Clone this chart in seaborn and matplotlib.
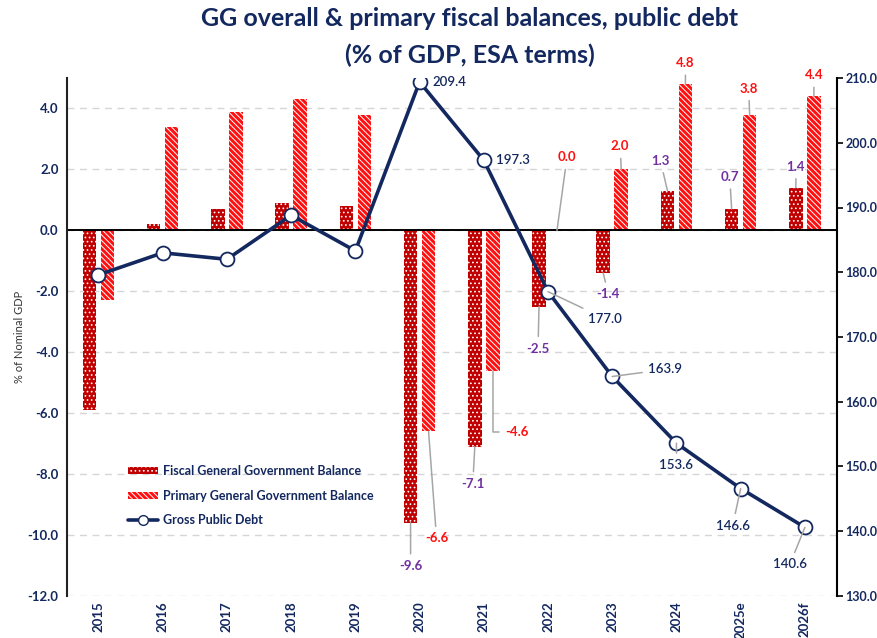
import numpy as np
import pandas as pd
import matplotlib
matplotlib.use("Agg")
import matplotlib.pyplot as plt
from matplotlib.lines import Line2D
from matplotlib.patches import Patch
import seaborn as sns

# ---- data -------------------------------------------------------------
years = ["2015", "2016", "2017", "2018", "2019", "2020",
         "2021", "2022", "2023", "2024", "2025e", "2026f"]
fiscal_balance = [-5.9, 0.2, 0.7, 0.9, 0.8, -9.6, -7.1, -2.5, -1.4, 1.3, 0.7, 1.4]
primary_balance = [-2.3, 3.4, 3.9, 4.3, 3.8, -6.6, -4.6, 0.0, 2.0, 4.8, 3.8, 4.4]
public_debt = [179.6, 183.0, 182.0, 188.8, 183.3, 209.4,
               197.3, 177.0, 163.9, 153.6, 146.6, 140.6]

left_ticks = [-12, -10, -8, -6, -4, -2, 0, 2, 4]
right_ticks = [130, 140, 150, 160, 170, 180, 190, 200, 210]

series_names = ["Fiscal General Government Balance",
                "Primary General Government Balance",
                "Gross Public Debt"]

# ---- styling ------------------------------------------------------------
NAVY = "#13285e"
DARK_RED = "#c00000"
RED = "#ff1010"
PURPLE = "#7030a0"
LEADER = "#a6a6a6"
DOTS = "...."
STRIPES = "\\" * 6

sns.set_theme(style="white")
plt.rcParams["font.family"] = ["Lato", "DejaVu Sans"]
plt.rcParams["hatch.linewidth"] = 0.7

fig = plt.figure(figsize=(8.78, 6.38), dpi=100)
ax = fig.add_axes([67 / 878, 1 - 596 / 638, (837 - 67) / 878, (596 - 78) / 638])

df = pd.DataFrame({
    "Year": years * 2,
    "Value": fiscal_balance + primary_balance,
    "Series": [series_names[0]] * len(years) + [series_names[1]] * len(years),
})

sns.barplot(data=df, x="Year", y="Value", hue="Series",
            hue_order=series_names[:2], palette=[DARK_RED, RED],
            width=0.56, gap=0.25, saturation=1, legend=False, ax=ax,
            errorbar=None)

# patterned fills: white dots on dark red, white stripes on red
for patch in ax.containers[0]:
    patch.set_facecolor(DARK_RED)
    patch.set_edgecolor("white")
    patch.set_linewidth(0)
    patch.set_hatch(DOTS)
for patch in ax.containers[1]:
    patch.set_facecolor(RED)
    patch.set_edgecolor("white")
    patch.set_linewidth(0)
    patch.set_hatch(STRIPES)

ax.set_xlim(-0.49, 11.5)
ax.set_ylim(-12, 5)
ax.set_yticks(left_ticks)
ax.set_yticklabels([f"{t:.1f}" for t in left_ticks])
ax.set_xlabel("")
ax.set_ylabel("% of Nominal GDP", fontsize=8, color="#333333", labelpad=2)
ax.yaxis.grid(True, linestyle=(0, (5, 4)), color="#d6d6d6", linewidth=1)
ax.set_axisbelow(True)
ax.axhline(0, color="black", linewidth=1.4, zorder=1.5)
ax.tick_params(axis="y", length=0, labelsize=9.5, labelcolor=NAVY, pad=6)
ax.tick_params(axis="x", length=0, labelsize=9.5, labelcolor=NAVY,
               labelrotation=90, pad=4)
for lbl in ax.get_xticklabels() + ax.get_yticklabels():
    lbl.set_fontweight("bold")
for side in ["top", "right", "bottom"]:
    ax.spines[side].set_visible(False)
ax.spines["left"].set_color("#222222")
ax.spines["left"].set_linewidth(1.5)

# ---- debt line on the secondary axis ------------------------------------
ax2 = ax.twinx()
positions = np.arange(len(years))
sns.lineplot(x=positions, y=public_debt, ax=ax2, color=NAVY, linewidth=2.6,
             marker="o", markersize=10, markerfacecolor="white",
             markeredgecolor=NAVY, markeredgewidth=1.3, legend=False)
ax2.set_ylim(130, 210)
ax2.set_yticks(right_ticks)
ax2.set_yticklabels([f"{t:.1f}" for t in right_ticks])
ax2.set_ylabel("")
ax2.set_xlim(-0.49, 11.5)
ax2.tick_params(axis="y", direction="out", length=4, width=1.2, color="black",
                labelsize=9, labelcolor=NAVY, pad=2)
for lbl in ax2.get_yticklabels():
    lbl.set_fontweight("bold")
for side in ["top", "left", "bottom"]:
    ax2.spines[side].set_visible(False)
ax2.spines["right"].set_color("black")
ax2.spines["right"].set_linewidth(1.5)
ax2.grid(False)

# ---- value labels (from 2020 on) -----------------------------------------
first_labelled = 5
bar_shift = 0.14
text_kw = dict(fontsize=9.5, fontweight="bold", ha="center", va="center",
               textcoords="offset pixels", annotation_clip=False)

fiscal_offsets = [(0, -43), (-2, -37), (-1, -42), (5, -21),
                  (-7, 30), (-2, 32), (0, 21)]
primary_offsets = [(8, -107), (24, -61), (10, 73), (-1, 23),
                   (0, 21), (-1, 26), (0, 21)]
debt_offsets = [(30, 0), (29, 0), (57, -27), (53, 7),
                (0, -22), (-8, -37), (-15, -37)]


def leader(style="arc3"):
    return dict(arrowstyle="-", color=LEADER, lw=1.1, shrinkA=2, shrinkB=0,
                connectionstyle=style)


for k, i in enumerate(range(first_labelled, len(years))):
    v = fiscal_balance[i]
    ax.annotate(f"{v:.1f}", xy=(i - bar_shift, v), xytext=fiscal_offsets[k],
                color=PURPLE, arrowprops=leader(), **text_kw)

    v = primary_balance[i]
    style = "angle,angleA=0,angleB=90,rad=0" if years[i] == "2021" else "arc3"
    ax.annotate(f"{v:.1f}", xy=(i + bar_shift, v), xytext=primary_offsets[k],
                color=RED, arrowprops=leader(style), **text_kw)

    d = public_debt[i]
    arrow = None if debt_offsets[k][1] == 0 else leader()
    ax2.annotate(f"{d:.1f}", xy=(i, d), xytext=debt_offsets[k],
                 color=NAVY, arrowprops=arrow,
                 **{**text_kw, "fontweight": "semibold"})

# ---- legend -------------------------------------------------------------
handles = [
    Patch(facecolor=DARK_RED, edgecolor="white", linewidth=0, hatch=DOTS),
    Patch(facecolor=RED, edgecolor="white", linewidth=0, hatch=STRIPES),
    Line2D([], [], color=NAVY, linewidth=2.6, marker="o", markersize=7,
           markerfacecolor="white", markeredgecolor=NAVY),
]
leg = ax2.legend(handles, series_names, loc="upper left",
                 bbox_to_anchor=(0.073, 0.262), frameon=False, fontsize=9,
                 handlelength=2.4, handleheight=0.5, handletextpad=0.4,
                 labelspacing=1.0, borderaxespad=0)
for t in leg.get_texts():
    t.set_color(NAVY)
    t.set_fontweight("bold")

# ---- title ----------------------------------------------------------------
fig.text(470 / 878, 1 - 18 / 638,
         "GG overall & primary fiscal balances, public debt",
         ha="center", va="center", fontsize=18, fontweight="bold", color=NAVY)
fig.text(470 / 878, 1 - 55 / 638, "(% of GDP, ESA terms)",
         ha="center", va="center", fontsize=18, fontweight="bold", color=NAVY)

fig.savefig("out.png", dpi=100)
